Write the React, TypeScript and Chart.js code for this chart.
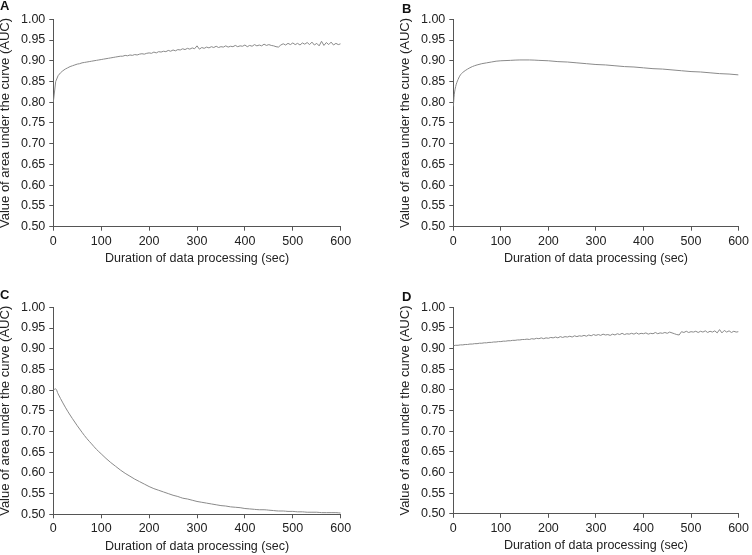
import React, { useEffect, useRef } from "react";
import { Chart, registerables } from "chart.js";
Chart.register(...registerables);

// ---------- DATA ----------
const xTicks = [0, 100, 200, 300, 400, 500, 600];
const yTickLabels = ["0.50", "0.55", "0.60", "0.65", "0.70", "0.75", "0.80", "0.85", "0.90", "0.95", "1.00"];

// sampling grid for panels A and D: every 5 seconds
const timesEvery5: number[] = Array.from({ length: 121 }, (_, i) => i * 5);

const aucA = [
  0.800, 0.850, 0.864, 0.871, 0.876, 0.880, 0.883, 0.886, 0.888, 0.890,
  0.892, 0.893, 0.895, 0.896, 0.897, 0.898, 0.899, 0.900, 0.901, 0.902,
  0.903, 0.904, 0.905, 0.906, 0.907, 0.908, 0.909, 0.910, 0.911, 0.911,
  0.913, 0.912, 0.914, 0.913, 0.915, 0.914, 0.916, 0.917, 0.916, 0.918,
  0.919, 0.918, 0.921, 0.919, 0.922, 0.921, 0.923, 0.922, 0.925, 0.923,
  0.926, 0.924, 0.927, 0.926, 0.929, 0.927, 0.930, 0.928, 0.931, 0.929,
  0.936, 0.928, 0.932, 0.930, 0.933, 0.931, 0.934, 0.932, 0.935, 0.932,
  0.934, 0.933, 0.936, 0.933, 0.935, 0.934, 0.937, 0.934, 0.936, 0.935,
  0.938, 0.934, 0.937, 0.935, 0.939, 0.936, 0.938, 0.936, 0.940, 0.937,
  0.939, 0.937, 0.936, 0.934, 0.933, 0.938, 0.941, 0.938, 0.942, 0.939,
  0.943, 0.939, 0.942, 0.938, 0.943, 0.940, 0.944, 0.939, 0.945, 0.938,
  0.942, 0.936, 0.947, 0.937, 0.944, 0.939, 0.945, 0.938, 0.942, 0.939,
  0.941,
];

const timesB = [0, 2, 5, 10, 15, 20, 30, 40, 50, 60, 70, 80, 90, 100, 120, 140, 160, 180, 200,
  220, 240, 260, 280, 300, 320, 340, 360, 380, 400, 420, 440, 460, 480, 500, 520, 540, 560, 580, 600];
const aucB = [0.790, 0.818, 0.838, 0.855, 0.866, 0.872, 0.880, 0.886, 0.890, 0.893, 0.895, 0.897, 0.899,
  0.900, 0.901, 0.902, 0.902, 0.901, 0.900, 0.898, 0.897, 0.895, 0.893, 0.891, 0.890, 0.888, 0.886,
  0.885, 0.883, 0.881, 0.880, 0.878, 0.876, 0.874, 0.873, 0.871, 0.869, 0.868, 0.866];

const timesC = [0, 5, 10, 20, 30, 40, 50, 60, 70, 80, 90, 100, 110, 120, 130, 140, 150, 160, 170, 180,
  190, 200, 210, 220, 230, 240, 250, 260, 270, 280, 290, 300, 310, 320, 330, 340, 350, 360, 370, 380,
  390, 400, 410, 420, 430, 440, 450, 460, 470, 480, 490, 500, 510, 520, 530, 540, 550, 560, 570, 580,
  590, 600];
const aucC = [0.800, 0.803, 0.791, 0.769, 0.749, 0.731, 0.714, 0.698, 0.683, 0.670, 0.657, 0.646,
  0.635, 0.625, 0.616, 0.607, 0.599, 0.592, 0.585, 0.579, 0.573, 0.567, 0.562, 0.558, 0.554, 0.550,
  0.546, 0.543, 0.539, 0.537, 0.534, 0.531, 0.529, 0.527, 0.525, 0.523, 0.521, 0.520, 0.518, 0.517,
  0.516, 0.514, 0.513, 0.512, 0.511, 0.511, 0.510, 0.509, 0.508, 0.508, 0.507, 0.507, 0.506, 0.506,
  0.505, 0.505, 0.505, 0.504, 0.504, 0.504, 0.504, 0.503];

const aucD = [
  0.907, 0.908, 0.908, 0.909, 0.909, 0.910, 0.910, 0.911, 0.911, 0.912,
  0.912, 0.913, 0.913, 0.914, 0.914, 0.915, 0.915, 0.916, 0.916, 0.917,
  0.917, 0.918, 0.918, 0.919, 0.919, 0.920, 0.920, 0.921, 0.921, 0.922,
  0.922, 0.923, 0.922, 0.924, 0.923, 0.925, 0.924, 0.926, 0.924, 0.926,
  0.925, 0.927, 0.926, 0.928, 0.926, 0.929, 0.927, 0.929, 0.928, 0.930,
  0.928, 0.931, 0.929, 0.931, 0.930, 0.932, 0.930, 0.933, 0.931, 0.934,
  0.932, 0.934, 0.932, 0.935, 0.933, 0.934, 0.932, 0.935, 0.933, 0.936,
  0.934, 0.937, 0.934, 0.936, 0.935, 0.937, 0.935, 0.938, 0.935, 0.937,
  0.936, 0.938, 0.935, 0.937, 0.936, 0.939, 0.936, 0.938, 0.937, 0.939,
  0.937, 0.940, 0.938, 0.936, 0.934, 0.933, 0.941, 0.939, 0.942, 0.939,
  0.941, 0.940, 0.942, 0.939, 0.942, 0.940, 0.943, 0.939, 0.942, 0.940,
  0.943, 0.938, 0.946, 0.938, 0.944, 0.940, 0.943, 0.939, 0.942, 0.940,
  0.941,
];

const xTitle = "Duration of data processing (sec)";
const yTitle = "Value of area under the curve (AUC)";

// ---------- STYLE ----------
const FONT = "'Liberation Sans', Arial, Helvetica, sans-serif";
const AXIS_COLOR = "#555555";
const TEXT_COLOR = "#222222";
const LINE_COLOR = "#8a8a8a";
const Y_SCALE_W = 53;
const X_SCALE_H = 40;

type PanelProps = {
  times: number[];
  values: number[];
  smooth: boolean;
  left: number;
  top: number;
  width: number;
  height: number;
  plotL: number;
  plotT: number;
  plotR: number;
  plotB: number;
};

function Panel(p: PanelProps) {
  const ref = useRef<HTMLCanvasElement>(null);
  useEffect(() => {
    const chart = new Chart(ref.current as HTMLCanvasElement, {
      type: "line",
      data: {
        datasets: [
          {
            data: p.times.map((t, i) => ({ x: t, y: p.values[i] })),
            borderColor: LINE_COLOR,
            borderWidth: 1,
            pointRadius: 0,
            fill: false,
            tension: 0,
            cubicInterpolationMode: p.smooth ? "monotone" : "default",
          },
        ],
      },
      options: {
        responsive: false,
        animation: false,
        events: [],
        layout: {
          padding: {
            left: p.plotL - Y_SCALE_W,
            top: p.plotT,
            right: p.width - p.plotR,
            bottom: p.height - p.plotB - X_SCALE_H,
          },
        },
        plugins: { legend: { display: false }, tooltip: { enabled: false } },
        scales: {
          x: {
            type: "linear",
            min: xTicks[0],
            max: xTicks[xTicks.length - 1],
            afterFit: (s: any) => {
              s.height = X_SCALE_H;
            },
            afterBuildTicks: (s: any) => {
              s.ticks = xTicks.map((v) => ({ value: v }));
            },
            ticks: {
              font: { family: FONT, size: 12.5 },
              color: TEXT_COLOR,
              padding: 3,
              maxRotation: 0,
              autoSkip: false,
            },
            grid: { drawOnChartArea: false, drawTicks: true, tickLength: 4, color: AXIS_COLOR },
            border: { display: true, color: AXIS_COLOR, width: 1 },
            title: {
              display: true,
              text: xTitle,
              font: { family: FONT, size: 12.5, lineHeight: 1 },
              color: TEXT_COLOR,
              padding: { top: 0, bottom: 1.75 },
            },
          },
          y: {
            type: "linear",
            min: 0.5,
            max: 1.0,
            afterFit: (s: any) => {
              s.width = Y_SCALE_W;
            },
            afterBuildTicks: (s: any) => {
              s.ticks = yTickLabels.map((l) => ({ value: parseFloat(l) }));
            },
            ticks: {
              font: { family: FONT, size: 12.5 },
              color: TEXT_COLOR,
              padding: 4,
              autoSkip: false,
              callback: (v: any) => Number(v).toFixed(2),
            },
            grid: { drawOnChartArea: false, drawTicks: true, tickLength: 4, color: AXIS_COLOR },
            border: { display: true, color: AXIS_COLOR, width: 1 },
            title: {
              display: true,
              text: yTitle,
              font: { family: FONT, size: 13, lineHeight: 1 },
              color: TEXT_COLOR,
              padding: { top: -1, bottom: 0 },
            },
          },
        },
      } as any,
    });
    return () => chart.destroy();
  }, []);
  return (
    <canvas
      ref={ref}
      width={p.width}
      height={p.height}
      style={{ position: "absolute", left: p.left, top: p.top, width: p.width, height: p.height }}
    />
  );
}

const labelStyle = (left: number, top: number): React.CSSProperties => ({
  position: "absolute",
  left,
  top,
  fontFamily: FONT,
  fontWeight: "bold",
  fontSize: 13,
  lineHeight: "13px",
  color: "#111",
});

export default function App() {
  return (
    <div style={{ position: "fixed", left: 0, top: 0, width: 752, height: 555, background: "#fff", overflow: "hidden" }}>
      <Panel times={timesEvery5} values={aucA} smooth={false} left={0} top={0} width={376} height={280}
        plotL={53.3} plotT={19.3} plotR={340.7} plotB={226.7} />
      <Panel times={timesB} values={aucB} smooth={true} left={376} top={0} width={376} height={280}
        plotL={77.3} plotT={19.3} plotR={364.3} plotB={226.7} />
      <Panel times={timesC} values={aucC} smooth={true} left={0} top={280} width={376} height={275}
        plotL={53.3} plotT={27.3} plotR={340.7} plotB={234.3} />
      <Panel times={timesEvery5} values={aucD} smooth={false} left={376} top={280} width={376} height={275}
        plotL={77.3} plotT={27.3} plotR={364.3} plotB={233.8} />
      <div style={labelStyle(0, -1)}>A</div>
      <div style={labelStyle(402, 1.6)}>B</div>
      <div style={labelStyle(0, 288.3)}>C</div>
      <div style={labelStyle(402, 290)}>D</div>
    </div>
  );
}
